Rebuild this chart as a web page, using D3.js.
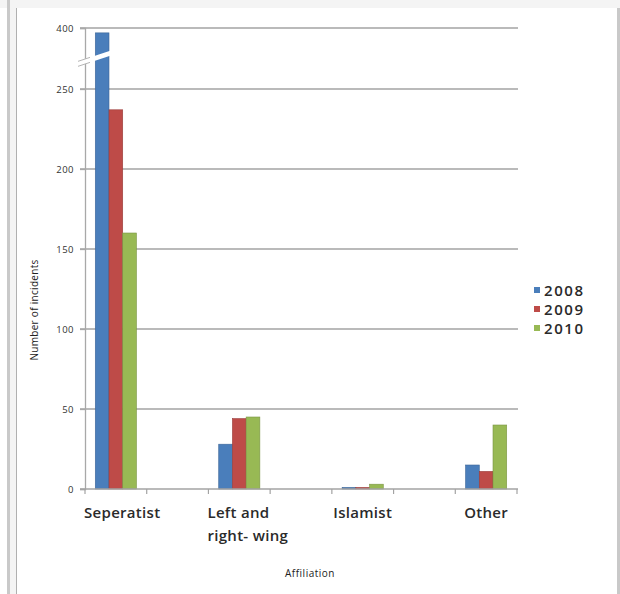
<!DOCTYPE html>
<html><head><meta charset="utf-8">
<script src="https://cdn.jsdelivr.net/npm/d3@7"></script>
<style>
html,body{margin:0;padding:0;background:#fff;}
svg{display:block;font-family:"Open Sans",sans-serif;}
</style></head>
<body>
<svg id="c" width="620" height="594"></svg>
<script>
// ---- data ----
const categories = ["Seperatist", "Left and right- wing", "Islamist", "Other"];
const years = ["2008", "2009", "2010"];
const v2008 = [388, 28, 1, 15];
const v2009 = [237, 44, 1, 11];
const v2010 = [160, 45, 3, 40];
const yTicks = [0, 50, 100, 150, 200, 250, 400];
const colors = ["#4a7ebb", "#be4b48", "#98b954"];
const yTitle = "Number of incidents";
const xTitle = "Affiliation";

const svg = d3.select("#c");
// frame
svg.append("rect").attr("x",0).attr("y",0).attr("width",620).attr("height",8).attr("fill","#f4f4f4");
svg.append("rect").attr("x",7).attr("y",0).attr("width",3).attr("height",594).attr("fill","#c9c9c9");
svg.append("rect").attr("x",10).attr("y",8).attr("width",6).attr("height",586).attr("fill","#f4f4f4");
svg.append("rect").attr("x",16).attr("y",8).attr("width",1).attr("height",586).attr("fill","#b0b0b0");
svg.append("rect").attr("x",617).attr("y",8).attr("width",3).attr("height",586).attr("fill","#c9c9c9");

// slots: categories separated by empty slots
const slots = [];
categories.forEach((c,i)=>{ slots.push(c); if(i<categories.length-1) slots.push("gap"+i); });

const x0 = d3.scaleBand().domain(slots).range([85,517]).paddingInner(0).paddingOuter(0);
const groupW = x0.bandwidth()/1.5;
const x1 = d3.scaleBand().domain(years).range([0,groupW]);
const y = d3.scaleLinear().domain([0,250,400]).range([489,89,28]);

const g = svg.append("g");
// gridlines
g.selectAll("line.grid").data(yTicks.filter(d=>d>0)).join("line")
 .attr("x1",80).attr("x2",518).attr("y1",d=>y(d)).attr("y2",d=>y(d))
 .attr("stroke","#a3a3a3").attr("stroke-width",1.3);
// y axis
const yAxis = d3.axisLeft(y).tickValues(yTicks).tickSize(5).tickPadding(6);
const ya = g.append("g").attr("transform","translate(85,0)").call(yAxis);
ya.select(".domain").attr("stroke","#a8a8a8").attr("stroke-width",1.3);
ya.selectAll(".tick line").attr("stroke","#a8a8a8").attr("stroke-width",1.3);
ya.selectAll(".tick text").attr("font-size",9.5).attr("fill","#333").attr("letter-spacing",0.5)
  .attr("font-family","'Open Sans',sans-serif");

// bars
const series = [v2008, v2009, v2010];
years.forEach((yr,si)=>{
  g.selectAll("rect.s"+si).data(categories).join("rect")
   .attr("x",(c)=>x0(c)+(x0.bandwidth()-groupW)/2+x1(yr))
   .attr("width",x1.bandwidth())
   .attr("y",(c,i)=>y(series[si][i]))
   .attr("height",(c,i)=>y(0)-y(series[si][i]))
   .attr("fill",colors[si])
   .attr("stroke",d3.color(colors[si]).darker(0.6))
   .attr("stroke-width",0.6);
});

// x axis baseline & ticks
g.append("line").attr("x1",80).attr("x2",518).attr("y1",489).attr("y2",489).attr("stroke","#a3a3a3").attr("stroke-width",1.3);
const bounds = slots.map(s=>x0(s)+x0.bandwidth()).concat([85]);
g.selectAll("line.xt").data(bounds).join("line")
 .attr("x1",d=>d).attr("x2",d=>d).attr("y1",489).attr("y2",494)
 .attr("stroke","#a3a3a3").attr("stroke-width",1.2);

// axis break
const bx0 = 76, bx1 = 114;
const by = xx => 62 - (xx-bx0)*0.33;
g.append("path").attr("d",`M${bx0},${by(bx0)} L${bx1},${by(bx1)} L${bx1},${by(bx1)+5} L${bx0},${by(bx0)+5} Z`)
 .attr("fill","#fff");
[0,5].forEach(o=>{
  g.append("line").attr("x1",bx0+2).attr("x2",bx0+14)
   .attr("y1",by(bx0+2)+o).attr("y2",by(bx0+14)+o)
   .attr("stroke","#b5b5b5").attr("stroke-width",1);
});

// category labels
const lab = g.append("g").attr("font-size",15).attr("font-weight",600).attr("fill","#2a2a2a").attr("letter-spacing",0.3);
categories.forEach(c=>{
  const words = c.split(" ");
  let lines = [c];
  const t = lab.append("text").attr("y",518);
  t.text(c);
  let w = t.node().getComputedTextLength();
  if (w > x0.bandwidth()*1.3) {
    t.text(null);
    lines = [words.slice(0,2).join(" "), words.slice(2).join(" ")];
    lines.forEach((ln,i)=>t.append("tspan").attr("x",0).attr("dy",i?23:0).text(ln));
    w = d3.max(t.selectAll("tspan").nodes(), n=>n.getComputedTextLength());
  }
  if (w > x0.bandwidth()) {
    t.attr("text-anchor","start").attr("transform",`translate(${x0(c)-1},0)`);
    t.selectAll("tspan").attr("x",0);
  } else {
    t.attr("text-anchor","middle").attr("transform",`translate(${x0(c)+x0.bandwidth()/2},0)`);
  }
});

// axis titles
svg.append("text").attr("transform","translate(38,310) rotate(-90)").attr("text-anchor","middle")
 .attr("font-size",10).attr("fill","#222").attr("letter-spacing",0.3).text(yTitle);
svg.append("text").attr("x",310).attr("y",577).attr("text-anchor","middle")
 .attr("font-size",10).attr("fill","#222").attr("letter-spacing",0.5).text(xTitle);

// legend
const lg = svg.append("g").attr("transform","translate(534,290)");
years.forEach((yr,i)=>{
  lg.append("rect").attr("x",0).attr("y",i*19-3).attr("width",6).attr("height",6).attr("fill",colors[i]);
  lg.append("text").attr("x",10).attr("y",i*19+6).attr("font-size",15).attr("font-weight",600).attr("letter-spacing",1.6)
    .attr("fill","#2a2a2a").text(yr);
});
</script>
</body></html>
